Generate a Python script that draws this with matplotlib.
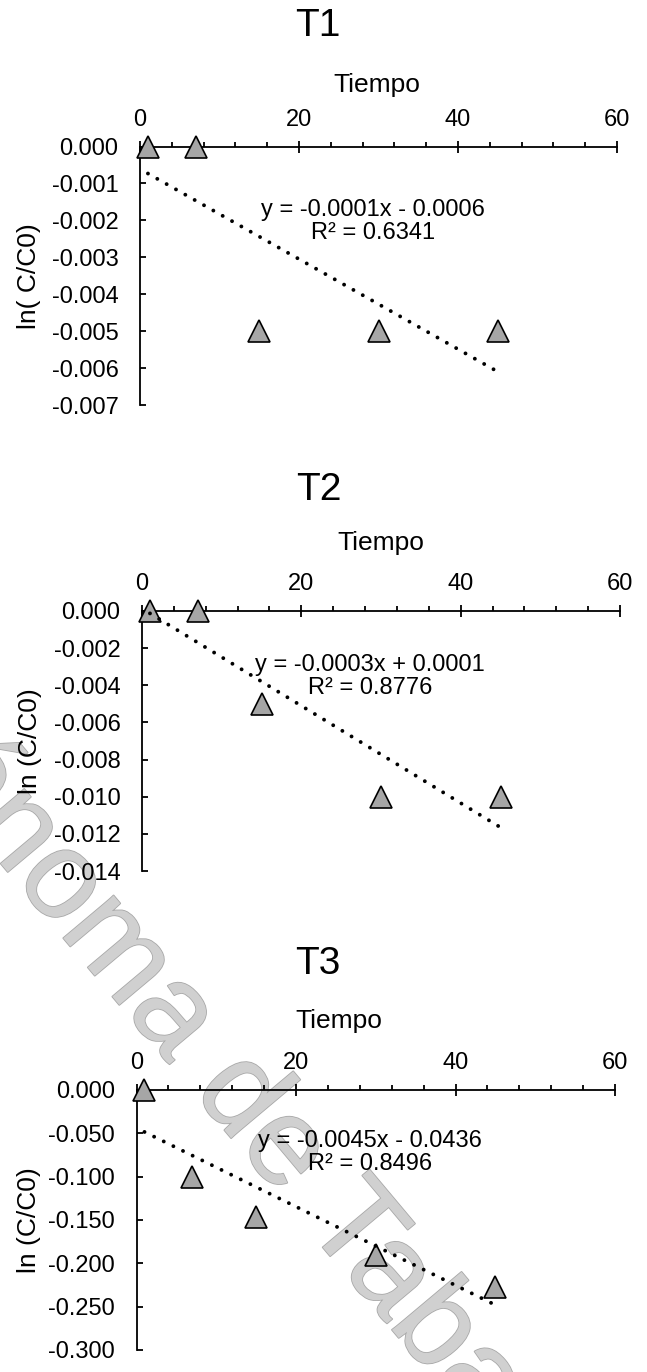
import matplotlib
matplotlib.use('Agg')
import matplotlib.pyplot as plt
import numpy as np
from matplotlib.ticker import MultipleLocator, FuncFormatter
import matplotlib.patheffects as pe

plt.rcParams['font.family'] = ['Liberation Sans', 'DejaVu Sans']

# ---- data ----
tiempo = [1, 7, 15, 30, 45]
t1_vals = [0.0, 0.0, -0.005, -0.005, -0.005]
t2_vals = [0.0, 0.0, -0.005, -0.010, -0.010]
t3_vals = [0.0, -0.100, -0.147, -0.190, -0.227]
series = [t1_vals, t2_vals, t3_vals]

titles = ['T1', 'T2', 'T3']
xlabel = 'Tiempo'
ylabels = ['ln( C/C0)', 'ln (C/C0)', 'ln (C/C0)']
equations = ['y = -0.0001x - 0.0006', 'y = -0.0003x + 0.0001', 'y = -0.0045x - 0.0436']
r2_texts = ['R² = 0.6341', 'R² = 0.8776', 'R² = 0.8496']
y_mins = [-0.007, -0.014, -0.300]
y_steps = [0.001, 0.002, 0.050]
x_range = (0, 60)
x_major = 20
x_minor = 4
watermark = 'Autónoma de Tabasco'

# ---- layout (pixels) ----
W, H = 647, 1372
fig = plt.figure(figsize=(W / 100, H / 100), dpi=100)

def fx(p):
    return p / W

def fy(p):
    return 1 - p / H

rects = [(140, 617, 146.5, 405), (142, 620, 611, 871), (136.5, 615, 1090, 1350)]
title_pos = [(318, 36), (319, 500), (318, 974)]
xlabel_pos = [(0.497, 1.211), (0.499, 1.235), (0.423, 1.239)]
ylabel_x = [-0.207, -0.210, -0.199]
eq_pos = [(0.4885, 0.710), (0.477, 0.748), (0.488, 0.760)]

# watermark behind everything
fig.text(fx(-197), fy(628), watermark, fontsize=90, color='#D0D0D0',
         rotation=-50, rotation_mode='anchor', ha='left', va='baseline',
         zorder=-5,
         path_effects=[pe.withStroke(linewidth=1.2, foreground='#A8A8A8')])

fs = 17
fs_lab = 19
lw = 1.3

for i, vals in enumerate(series):
    l, r, t, b = rects[i]
    ax = fig.add_axes([fx(l), fy(b), fx(r - l), (b - t) / H])
    ax.patch.set_alpha(0)

    ax.set_xlim(*x_range)
    ax.set_ylim(y_mins[i], 0)

    ax.xaxis.tick_top()
    ax.spines['bottom'].set_visible(False)
    ax.spines['right'].set_visible(False)
    ax.spines['top'].set_linewidth(lw)
    ax.spines['left'].set_linewidth(lw)

    ax.xaxis.set_major_locator(MultipleLocator(x_major))
    ax.xaxis.set_minor_locator(MultipleLocator(x_minor))
    ax.yaxis.set_major_locator(MultipleLocator(y_steps[i]))

    def yfmt(v, pos):
        if abs(v) < 1e-12:
            v = 0.0
        return f'{v:.3f}'
    ax.yaxis.set_major_formatter(FuncFormatter(yfmt))

    ax.tick_params(axis='x', which='major', direction='inout', length=8.5,
                   width=lw, pad=7, labelsize=fs, top=True, bottom=False,
                   labeltop=True, labelbottom=False)
    ax.tick_params(axis='x', which='minor', direction='out', length=3.6,
                   width=lw, top=True, bottom=False)
    ax.tick_params(axis='y', which='major', direction='in', length=4.3,
                   width=lw, pad=15.5, labelsize=fs)

    ax.xaxis.set_label_position('top')
    ax.set_xlabel(xlabel, fontsize=fs_lab)
    ax.xaxis.set_label_coords(*xlabel_pos[i])
    ax.xaxis.label.set_verticalalignment('baseline')

    ax.set_ylabel(ylabels[i], fontsize=fs_lab)
    ax.yaxis.set_label_coords(ylabel_x[i], 0.5)

    # markers
    ax.plot(tiempo, vals, linestyle='none', marker='^', markersize=16,
            markerfacecolor='#A6A6A6', markeredgecolor='black',
            markeredgewidth=1.2, clip_on=False, zorder=3)

    # linear trendline
    coef = np.polyfit(tiempo, vals, 1)
    xs = np.array([min(tiempo), max(tiempo)], dtype=float)
    ax.plot(xs, np.polyval(coef, xs), color='black', linewidth=2.8,
            linestyle=(0, (0.01, 2.75)), dash_capstyle='round',
            clip_on=False, zorder=4)

    ax.text(eq_pos[i][0], eq_pos[i][1], equations[i] + '\n' + r2_texts[i],
            transform=ax.transAxes, ha='center', va='center',
            fontsize=fs, linespacing=1.05, multialignment='center', zorder=5)

    fig.text(fx(title_pos[i][0]), fy(title_pos[i][1]), titles[i],
             fontsize=28, ha='center', va='baseline')

fig.savefig('out.png', dpi=100)
